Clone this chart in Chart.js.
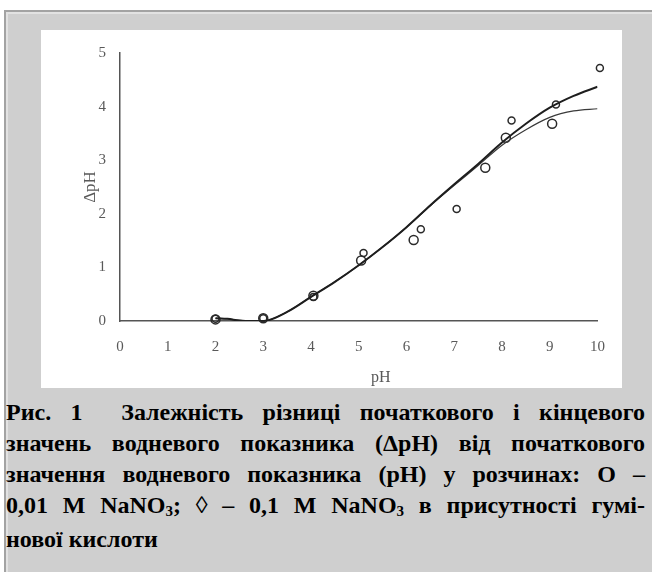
<!DOCTYPE html>
<html>
<head>
<meta charset="utf-8">
<script src="https://cdn.jsdelivr.net/npm/chart.js@4"></script>
<style>
  html, body { margin: 0; padding: 0; background: #fff; }
  body { width: 652px; height: 572px; position: relative; overflow: hidden; }
  .frame {
    position: absolute; left: 4px; top: 10px; right: 0; bottom: 0;
    background: #cfcfcf;
    border-left: 2px solid #a3a3a3; border-top: 2px solid #a3a3a3;
    box-shadow: inset 2px 2px 0 #e2e2e2;
  }
  .plot { position: absolute; left: 41px; top: 30px; width: 581px; height: 358px; background: #fff; }
  .cap {
    position: absolute; left: 6px; top: 397px; width: 639px;
    font-family: "Liberation Serif", "Times New Roman", serif;
    font-weight: bold; font-size: 24px; line-height: 31px; color: #000;
  }
  .cap .j { text-align: justify; text-align-last: justify; white-space: nowrap; }
  .cap sub { font-size: 15px; vertical-align: baseline; position: relative; top: 3px; }
</style>
</head>
<body>
<div class="frame"></div>
<div class="plot"><canvas id="myChart" width="581" height="358"></canvas></div>
<div class="cap">
  <div class="j">Рис. 1&nbsp; Залежність різниці початкового і кінцевого</div>
  <div class="j">значень водневого показника (ΔpH) від початкового</div>
  <div class="j">значення водневого показника (pH) у розчинах: О –</div>
  <div class="j">0,01 M NaNO<sub>3</sub>; ◊ – 0,1 M NaNO<sub>3</sub> в присутності гумі-</div>
  <div>нової кислоти</div>
</div>
<script>
// measured points, 0,01 M NaNO3
var phCircle  = [2.0, 3.0, 4.05, 5.05, 6.15, 7.65, 8.08, 9.05];
var dphCircle = [0.03, 0.05, 0.47, 1.13, 1.51, 2.86, 3.42, 3.68];

// measured points, 0,1 M NaNO3 + humic acid
var phDiamond  = [2.0, 3.0, 4.05, 5.1, 6.3, 7.05, 8.2, 9.13, 10.05];
var dphDiamond = [0.04, 0.05, 0.45, 1.27, 1.71, 2.09, 3.74, 4.04, 4.72];

// fitted trend lines
var fitX    = [2, 2.25, 2.5, 2.75, 3, 3.5, 4, 4.5, 5, 5.5, 6, 6.5, 7, 7.5, 8, 8.5, 9, 9.5, 10];
var fitHigh = [0.05, 0.04, 0.01, 0.0, 0.0, 0.17, 0.45, 0.73, 1.04, 1.38, 1.75, 2.16, 2.55, 2.93, 3.33, 3.68, 3.98, 4.2, 4.37];
var fitLow  = [0.05, 0.04, 0.01, 0.0, 0.0, 0.17, 0.45, 0.73, 1.04, 1.38, 1.75, 2.15, 2.53, 2.9, 3.28, 3.57, 3.8, 3.92, 3.96];

var xTicks = [0, 1, 2, 3, 4, 5, 6, 7, 8, 9, 10];
var yTicks = [0, 1, 2, 3, 4, 5];

var serif = '"Liberation Serif", "Times New Roman", serif';
var grey = '#595959';

function pairs(xs, ys) {
    return xs.map(function (x, i) { return { x: x, y: ys[i] }; });
}

// x title sits a little right of the plot centre
var xTitle = {
    id: 'xTitle',
    afterDraw: function (chart) {
        var ctx = chart.ctx, a = chart.chartArea;
        ctx.save();
        ctx.font = '16px ' + serif;
        ctx.fillStyle = grey;
        ctx.textAlign = 'center';
        ctx.textBaseline = 'middle';
        ctx.fillText('pH', (a.left + a.right) / 2 + 22, 348);
        ctx.restore();
    }
};

var ctx = document.getElementById('myChart').getContext('2d');
new Chart(ctx, {
    type: 'scatter',
    data: {
        datasets: [{
            label: 'fit high',
            data: pairs(fitX, fitHigh),
            showLine: true,
            pointRadius: 0,
            borderColor: '#1e1e1e',
            borderWidth: 2,
            cubicInterpolationMode: 'monotone',
            fill: false
        }, {
            label: 'fit low',
            data: pairs(fitX, fitLow),
            showLine: true,
            pointRadius: 0,
            borderColor: '#3a3a3a',
            borderWidth: 1.2,
            cubicInterpolationMode: 'monotone',
            fill: false
        }, {
            label: '0,01 M NaNO3',
            data: pairs(phCircle, dphCircle),
            pointStyle: 'circle',
            pointRadius: 4.5,
            borderColor: '#2a2a2a',
            backgroundColor: 'rgba(0,0,0,0)',
            borderWidth: 1.5,
            clip: false
        }, {
            label: '0,1 M NaNO3',
            data: pairs(phDiamond, dphDiamond),
            pointStyle: 'circle',
            pointRadius: 3.5,
            borderColor: '#2a2a2a',
            backgroundColor: 'rgba(0,0,0,0)',
            borderWidth: 1.5,
            clip: false
        }]
    },
    options: {
        responsive: false,
        animation: false,
        layout: { padding: { top: 16, right: 22, bottom: 0, left: 0 } },
        plugins: { legend: { display: false }, tooltip: { enabled: false } },
        scales: {
            x: {
                type: 'linear',
                min: xTicks[0],
                max: xTicks[xTicks.length - 1],
                afterBuildTicks: function (s) { s.ticks = xTicks.map(function (v) { return { value: v }; }); },
                ticks: { color: grey, padding: 17, font: { family: serif, size: 15 } },
                grid: { display: false, drawTicks: false },
                border: { display: true, color: '#555', width: 1.5 },
                afterFit: function (s) { s.height = 67; }
            },
            y: {
                min: yTicks[0],
                max: yTicks[yTicks.length - 1],
                afterBuildTicks: function (s) { s.ticks = yTicks.map(function (v) { return { value: v }; }); },
                ticks: { color: grey, padding: 14, font: { family: serif, size: 15 } },
                grid: { display: false, drawTicks: false },
                border: { display: true, color: '#555', width: 1.5 },
                title: {
                    display: true,
                    text: 'ΔpH',
                    color: grey,
                    padding: { top: 39 },
                    font: { family: serif, size: 17 }
                },
                afterFit: function (s) { s.width = 79; }
            }
        }
    },
    plugins: [xTitle]
});
</script>
</body>
</html>
